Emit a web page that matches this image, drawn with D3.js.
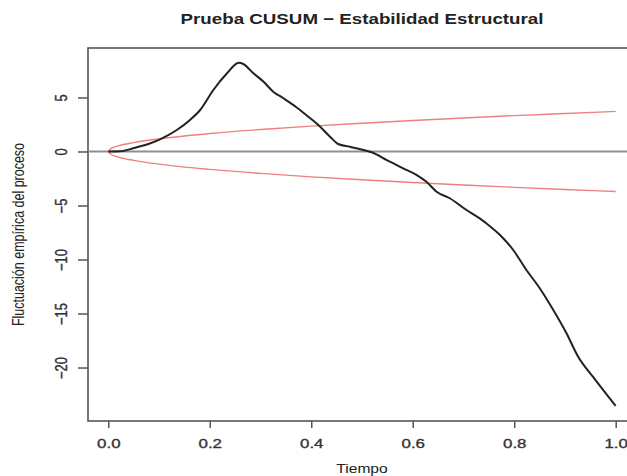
<!DOCTYPE html>
<html>
<head>
<meta charset="utf-8">
<script src="https://cdn.jsdelivr.net/npm/d3@7"></script>
<style>
  body { margin: 0; background: #fff; }
  text { font-family: "Liberation Sans", Arial, Helvetica, sans-serif; fill: #222; }
</style>
</head>
<body>
<svg id="chart"></svg>
<script>
const timeVals = [0, 0.024, 0.049, 0.083, 0.106, 0.135, 0.161, 0.181, 0.207, 0.234, 0.257, 0.266,
  0.286, 0.306, 0.325, 0.345, 0.370, 0.390, 0.414, 0.437, 0.453, 0.476, 0.503, 0.519, 0.549,
  0.581, 0.608, 0.627, 0.647, 0.673, 0.706, 0.732, 0.745, 0.772, 0.798, 0.824, 0.850, 0.877,
  0.903, 0.926, 0.955, 1.0];
const processVals = [0, 0.02, 0.30, 0.76, 1.22, 1.99, 2.92, 3.84, 5.69, 7.24, 8.22, 8.10,
  7.24, 6.46, 5.54, 4.93, 4.12, 3.38, 2.45, 1.37, 0.69, 0.44, 0.14, -0.07, -0.79,
  -1.56, -2.18, -2.80, -3.72, -4.33, -5.42, -6.19, -6.65, -7.73, -9.12, -10.97, -12.64, -14.68,
  -16.83, -19.0, -20.85, -23.56];

// Upper boundary (lower boundary is its mirror)
const boundTime = [0, 0.005, 0.02, 0.05, 0.1, 0.2, 0.3, 0.4, 0.5, 0.6, 0.7, 0.8, 0.9, 1.0];
const boundUpper = [0, 0.26, 0.52, 0.82, 1.17, 1.66, 2.03, 2.35, 2.62, 2.87, 3.10, 3.32, 3.52, 3.71];

const xTicks = [0, 0.2, 0.4, 0.6, 0.8, 1.0];
const yTicks = [-20, -15, -10, -5, 0, 5];

const title = "Prueba CUSUM \u2212 Estabilidad Estructural";
const xLabel = "Tiempo";
const yLabel = "Fluctuación empírica del proceso";

const width = 627, height = 476;
const box = {left: 88, right: 636, top: 48, bottom: 421};
const stretch = 1.25; // text in the picture is wider than tall

const svg = d3.select("#chart").attr("width", width).attr("height", height);

const x = d3.scaleLinear().domain([-0.04, 1.04]).range([box.left, box.right]);
const y = d3.scaleLinear().domain([-24.95, 9.58]).range([box.bottom, box.top]);

// plot box
svg.append("rect")
  .attr("x", box.left).attr("y", box.top)
  .attr("width", box.right - box.left).attr("height", box.bottom - box.top)
  .attr("fill", "none").attr("stroke", "#555").attr("stroke-width", 1.6);

// axes
const xAxisG = svg.append("g")
  .attr("transform", `translate(0,${box.bottom})`)
  .call(d3.axisBottom(x).tickValues(xTicks).tickSize(7).tickFormat(d3.format(".1f")));
xAxisG.select(".domain").remove();
xAxisG.selectAll(".tick line").attr("stroke", "#555").attr("stroke-width", 1.5);
xAxisG.selectAll(".tick text")
  .attr("y", null).attr("dy", null)
  .attr("transform", `translate(0,26.5) scale(${stretch},1)`)
  .style("font-size", "13.5px").style("fill", "#333")
  .style("stroke", "#333").style("stroke-width", 0.35);

const yAxisG = svg.append("g")
  .attr("transform", `translate(${box.left},0)`)
  .call(d3.axisLeft(y).tickValues(yTicks).tickSize(10));
yAxisG.select(".domain").remove();
yAxisG.selectAll(".tick line").attr("stroke", "#555").attr("stroke-width", 1.5);
yAxisG.selectAll(".tick text")
  .attr("x", null).attr("dy", null)
  .attr("text-anchor", "middle")
  .attr("transform", `translate(-21.5,0) scale(${stretch},1) rotate(-90)`)
  .style("font-size", "13px").style("fill", "#333")
  .style("stroke", "#333").style("stroke-width", 0.3);

// zero line
svg.append("line")
  .attr("x1", box.left).attr("x2", box.right)
  .attr("y1", y(0)).attr("y2", y(0))
  .attr("stroke", "#8f8f8f").attr("stroke-width", 2.2);

// boundaries
const boundLine = d3.line().x(d => x(d[0])).y(d => y(d[1])).curve(d3.curveMonotoneX);
const upper = boundTime.map((t, i) => [t, boundUpper[i]]);
const lower = boundTime.map((t, i) => [t, -boundUpper[i]]);
svg.selectAll(".boundary")
  .data([upper, lower])
  .join("path")
  .attr("class", "boundary")
  .attr("d", boundLine)
  .attr("fill", "none")
  .attr("stroke", "#ef8080")
  .attr("stroke-width", 1.4);

// fluctuation process
const procLine = d3.line().x(d => x(d[0])).y(d => y(d[1])).curve(d3.curveMonotoneX);
svg.append("path")
  .datum(timeVals.map((t, i) => [t, processVals[i]]))
  .attr("d", procLine)
  .attr("fill", "none")
  .attr("stroke", "#222")
  .attr("stroke-width", 2)
  .attr("stroke-linejoin", "round");

// title and labels
svg.append("text")
  .attr("transform", `translate(362,24) scale(${stretch},1)`)
  .attr("text-anchor", "middle")
  .style("font-size", "15px").style("font-weight", "bold")
  .text(title);

svg.append("text")
  .attr("transform", `translate(362,472.5) scale(${stretch},1)`)
  .attr("text-anchor", "middle")
  .style("font-size", "12.5px")
  .text(xLabel);

svg.append("text")
  .attr("transform", `translate(23.5,${(box.top + box.bottom) / 2}) scale(${stretch},1) rotate(-90)`)
  .attr("text-anchor", "middle")
  .style("font-size", "12.5px")
  .text(yLabel);
</script>
</body>
</html>
